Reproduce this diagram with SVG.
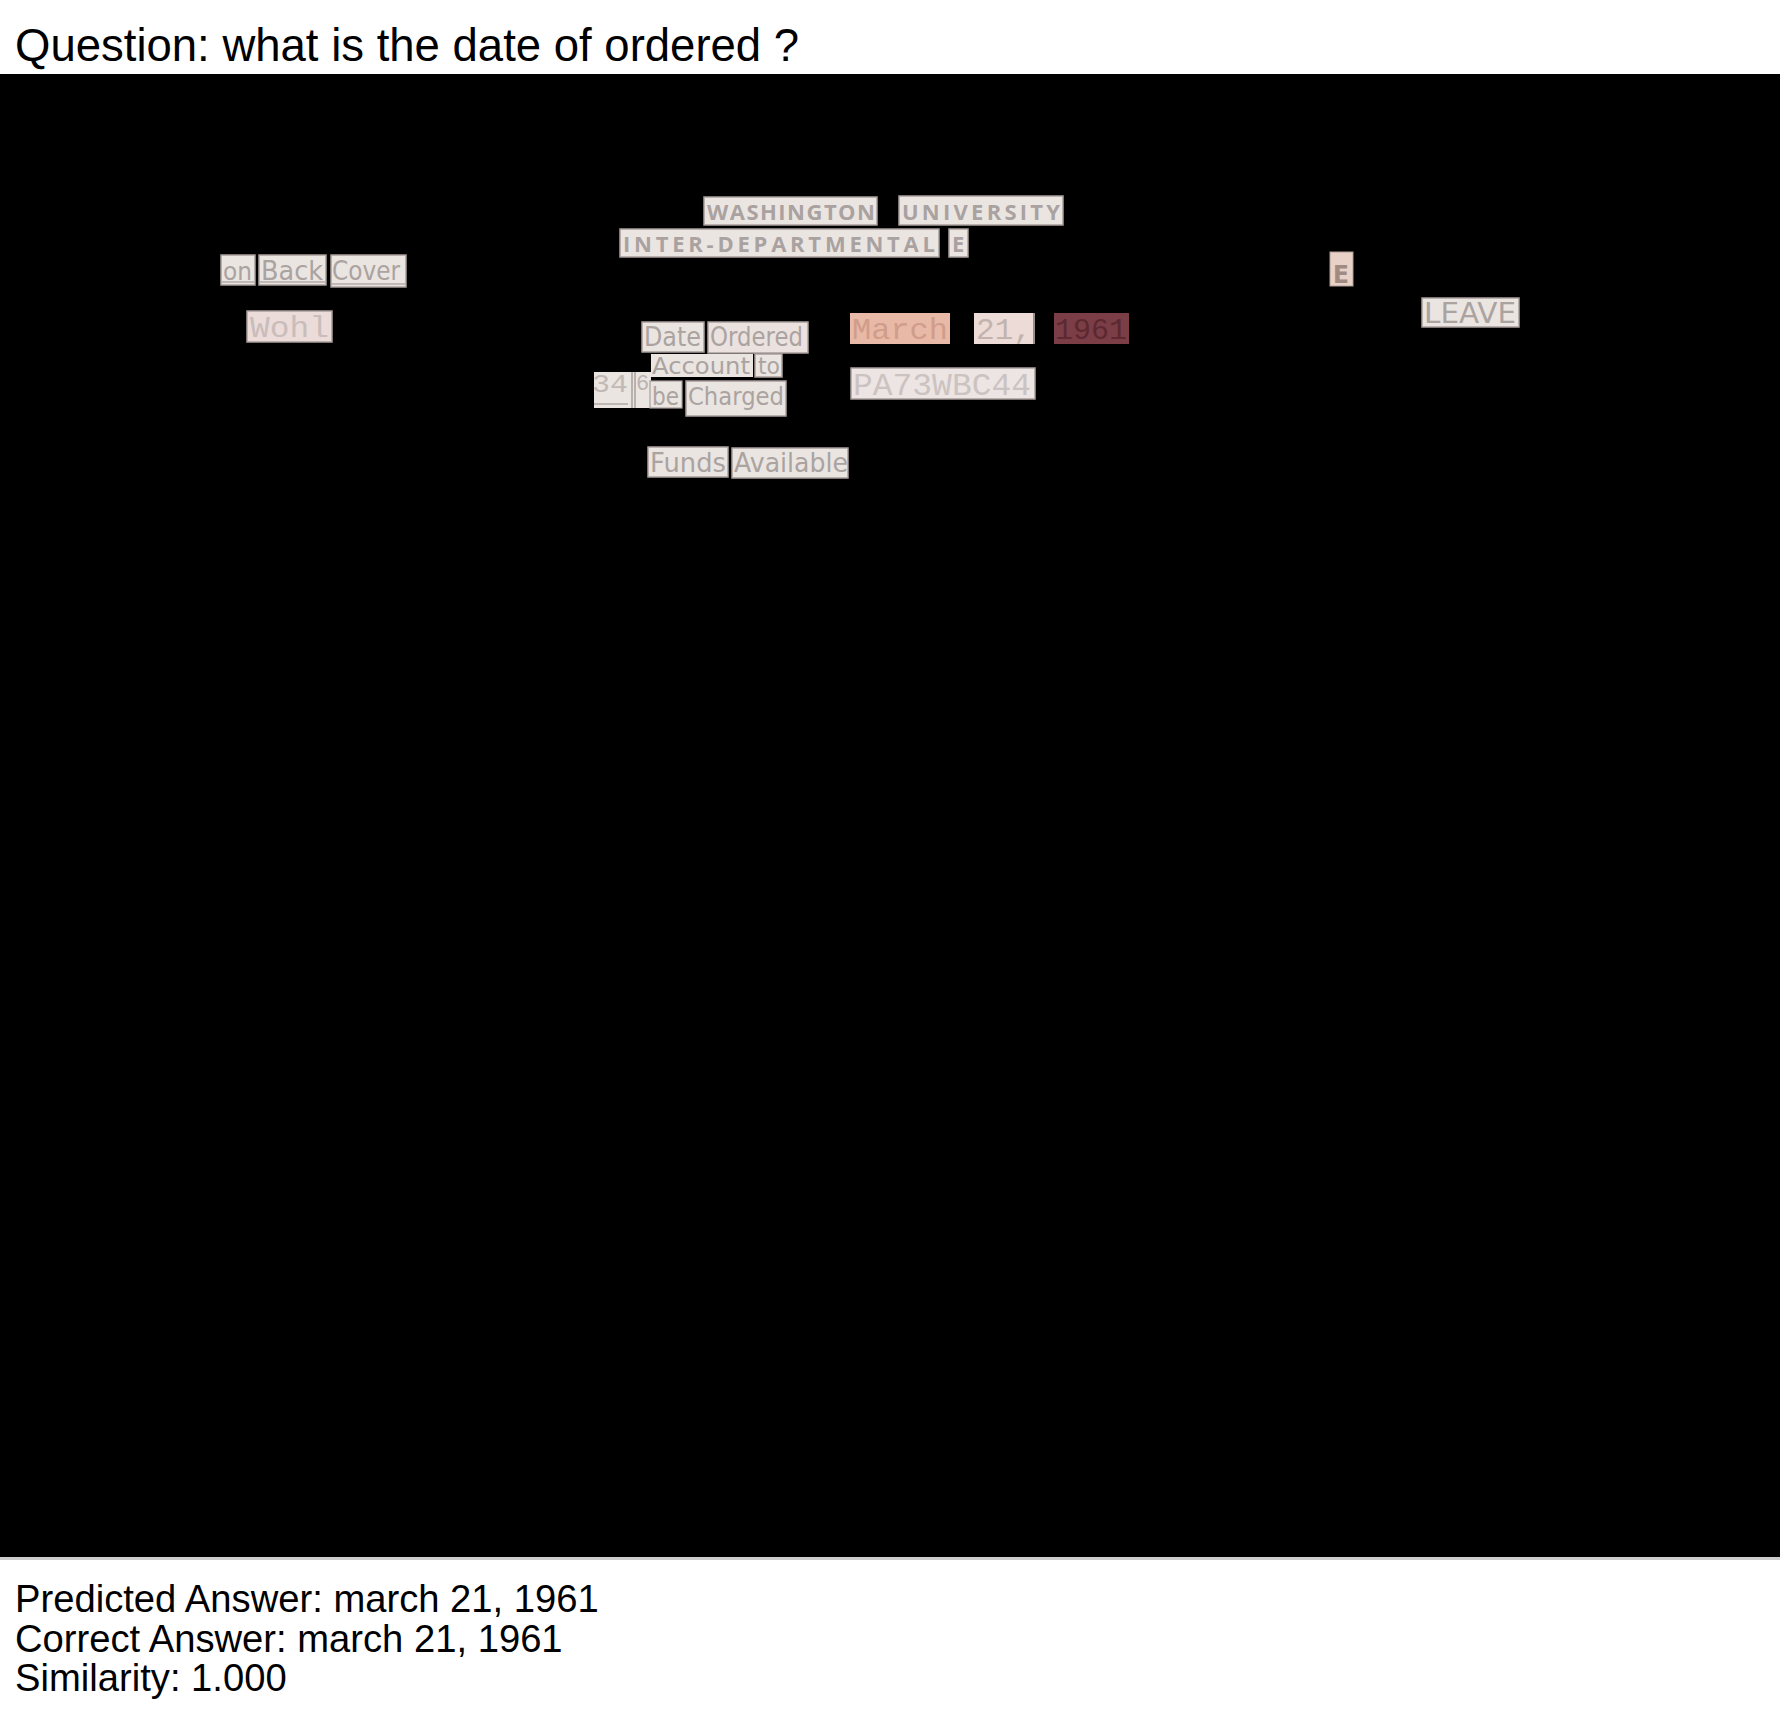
<svg xmlns="http://www.w3.org/2000/svg" width="1780" height="1713" viewBox="0 0 1780 1713">
<style>
.cap{font-family:"Liberation Sans",Arial,sans-serif;fill:#000}
.b{fill:#ebe5e2;stroke:#a99f9c;stroke-width:1.5}
.t{font-family:"DejaVu Sans","Liberation Sans",sans-serif;fill:#aaa3a0}
.h{font-family:"Open Sans","DejaVu Sans",sans-serif;font-weight:700;fill:#a9a2a0}
.m{font-family:"Liberation Mono","Courier New",monospace;fill:#c4bab7}
</style>
<rect x="0" y="0" width="1780" height="1713" fill="#fff"/>
<text class="cap" x="15" y="61" font-size="45.5">Question: what is the date of ordered ?</text>
<rect x="0" y="74" width="1780" height="1483" fill="#000"/>
<rect x="0" y="1557" width="1780" height="3" fill="#cccccc"/>
<text class="cap" x="15" y="1612" font-size="38.2">Predicted Answer: march 21, 1961</text>
<text class="cap" x="15" y="1652" font-size="38.2">Correct Answer: march 21, 1961</text>
<text class="cap" x="15" y="1691" font-size="38.2">Similarity: 1.000</text>

<g id="washington"><rect class="b" x="704" y="197" width="173" height="28"/><text class="h" x="707" y="220" font-size="22" textLength="168" lengthAdjust="spacing">WASHINGTON</text></g>
<g id="university"><rect class="b" x="899" y="196" width="164" height="29"/><text class="h" x="902" y="220" font-size="22" textLength="158" lengthAdjust="spacing">UNIVERSITY</text></g>
<g id="interdep"><rect class="b" x="620" y="229" width="319" height="28"/><text class="h" x="623" y="252" font-size="22" textLength="312" lengthAdjust="spacing">INTER-DEPARTMENTAL</text></g>
<g id="e1"><rect class="b" x="949" y="229" width="19" height="28"/><text class="h" x="952" y="252" font-size="22">E</text></g>

<g id="on"><rect class="b" x="221" y="255" width="34" height="30"/><line x1="222" y1="282" x2="254" y2="282" stroke="#b3aaa7" stroke-width="1.5"/><text class="t" x="223" y="280" font-size="25" textLength="29" lengthAdjust="spacingAndGlyphs">on</text></g>
<g id="back"><rect class="b" x="259" y="255" width="67" height="30"/><line x1="260" y1="282" x2="325" y2="282" stroke="#b3aaa7" stroke-width="1.5"/><text class="t" x="261" y="280" font-size="27" textLength="62" lengthAdjust="spacingAndGlyphs">Back</text></g>
<g id="cover"><rect class="b" x="331" y="255" width="75" height="32"/><line x1="332" y1="284" x2="405" y2="284" stroke="#b3aaa7" stroke-width="1.5"/><text class="t" x="332" y="280" font-size="27" textLength="68" lengthAdjust="spacingAndGlyphs">Cover</text></g>
<g id="wohl"><rect class="b" x="247" y="311" width="85" height="31" style="fill:#ebdcda"/><text class="m" x="250" y="337" font-size="30" textLength="79" lengthAdjust="spacingAndGlyphs" style="fill:#c9bdbb">Wohl</text></g>

<g id="date"><rect class="b" x="642" y="322" width="62" height="30"/><text class="t" x="644" y="346" font-size="26" textLength="57" lengthAdjust="spacingAndGlyphs">Date</text></g>
<g id="ordered"><rect class="b" x="708" y="322" width="100" height="31" style="fill:#ebe2e0"/><text class="t" x="710" y="346" font-size="26" textLength="93" lengthAdjust="spacingAndGlyphs">Ordered</text></g>
<g id="march"><rect x="850" y="313" width="100" height="31" fill="#e8b9a6"/><text class="m" x="852" y="339" font-size="30" textLength="96" lengthAdjust="spacingAndGlyphs" style="fill:#d09d8b">March</text></g>
<g id="d21"><rect x="974" y="313" width="61" height="31" fill="#ecdbd6"/><line x1="1034" y1="313" x2="1034" y2="344" stroke="#9a8e8a" stroke-width="2"/><text class="m" x="976" y="339" font-size="30" textLength="56" lengthAdjust="spacingAndGlyphs" style="fill:#c2b3ae">21,</text></g>
<g id="y1961"><rect x="1054" y="313" width="75" height="31" fill="#7b3e47"/><text class="m" x="1055" y="339" font-size="30" textLength="72" lengthAdjust="spacingAndGlyphs" style="fill:#5c2831">1961</text></g>

<g id="account"><rect x="651" y="354" width="102" height="23" fill="#ebe5e2"/><text class="t" x="652" y="374" font-size="23" textLength="98" lengthAdjust="spacingAndGlyphs">Account</text></g>
<g id="to"><rect class="b" x="755" y="354" width="27" height="23"/><text class="t" x="758" y="374" font-size="23" textLength="22" lengthAdjust="spacingAndGlyphs">to</text></g>
<g id="n346"><rect x="594" y="372" width="57" height="36" fill="#ebe5e2"/><line x1="594" y1="404" x2="628" y2="404" stroke="#b0a7a4" stroke-width="1.5"/><line x1="632" y1="372" x2="632" y2="408" stroke="#a99f9c" stroke-width="1.5"/><line x1="635" y1="372" x2="635" y2="408" stroke="#a99f9c" stroke-width="1.5"/><text class="m" x="592" y="392" font-size="26" textLength="36" lengthAdjust="spacingAndGlyphs" style="fill:#c2b9b6">34</text><text class="m" x="636" y="390" font-size="22" style="fill:#bcb3b0">6</text></g>
<g id="be"><rect x="650" y="381" width="32" height="27" fill="#ebe5e2" stroke="#a99f9c" stroke-width="1.2"/><text class="t" x="652" y="405" font-size="24" textLength="27" lengthAdjust="spacingAndGlyphs">be</text></g>
<g id="charged"><rect class="b" x="686" y="381" width="100" height="35"/><text class="t" x="688" y="405" font-size="25" textLength="96" lengthAdjust="spacingAndGlyphs">Charged</text></g>
<g id="pa73"><rect class="b" x="851" y="368" width="184" height="31" style="fill:#ede5e3"/><text class="m" x="853" y="395" font-size="31" textLength="178" lengthAdjust="spacingAndGlyphs" style="fill:#cbc3c1">PA73WBC44</text></g>
<g id="funds"><rect class="b" x="648" y="447" width="80" height="30"/><text class="t" x="650" y="472" font-size="27" textLength="76" lengthAdjust="spacingAndGlyphs">Funds</text></g>
<g id="available"><rect class="b" x="732" y="448" width="116" height="30"/><text class="t" x="734" y="472" font-size="27" textLength="114" lengthAdjust="spacingAndGlyphs">Available</text></g>

<g id="e2"><rect x="1330" y="252" width="23" height="34" fill="#e8d2c8" stroke="#b09e96" stroke-width="1"/><text class="t" x="1333" y="283" font-size="24" font-weight="bold" textLength="16" lengthAdjust="spacingAndGlyphs" style="fill:#a08a82">E</text></g>
<g id="leave"><rect class="b" x="1422" y="298" width="97" height="29"/><text class="t" x="1424" y="323" font-size="28" textLength="92" lengthAdjust="spacingAndGlyphs">LEAVE</text></g>
</svg>
